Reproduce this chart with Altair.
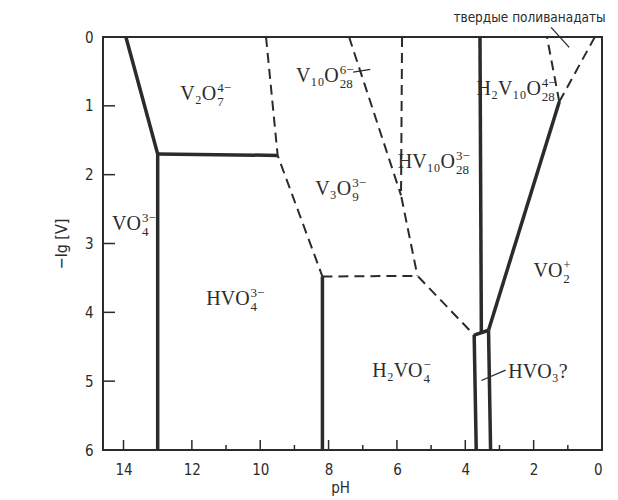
import altair as alt
import pandas as pd

# ---- data ----
seg_ids = []
seg_style = []
seg_ph = []
seg_lg = []

def add(sid, style, pts):
    for p, l in pts:
        seg_ids.append(sid); seg_style.append(style); seg_ph.append(p); seg_lg.append(l)

thick_segments = [
    [(13.93, 0.0), (13.0, 1.70), (13.0, 6.0)],
    [(13.0, 1.70), (9.49, 1.72)],
    [(8.18, 3.48), (8.18, 6.0)],
    [(3.57, 0.0), (3.53, 4.30)],
    [(3.74, 4.33), (3.32, 4.26)],
    [(3.74, 4.33), (3.68, 6.0)],
    [(3.32, 4.26), (3.26, 6.0)],
    [(3.32, 4.26), (1.25, 0.94)],
]
dashed_segments = [
    [(9.83, 0.0), (9.49, 1.72), (8.18, 3.48)],
    [(8.18, 3.48), (5.40, 3.47), (3.74, 4.33)],
    [(7.40, 0.0), (5.88, 2.30)],
    [(5.85, 0.0), (5.88, 2.30), (5.40, 3.47)],
    [(1.25, 0.94), (1.61, 0.0)],
    [(1.25, 0.94), (0.21, 0.0)],
]
thin_segments = [
    [(1.49, -0.14), (0.96, 0.15)],
    [(7.28, 0.51), (6.78, 0.47)],
    [(3.53, 4.99), (2.82, 4.84)],
]
for k, s in enumerate(thick_segments):
    add(f"t{k}", "thick", s)
for k, s in enumerate(dashed_segments):
    add(f"d{k}", "dash", s)
for k, s in enumerate(thin_segments):
    add(f"n{k}", "thin", s)

lines = pd.DataFrame({"sid": seg_ids, "style": seg_style, "ph": seg_ph, "lg": seg_lg})
lines["ord"] = lines.groupby("sid").cumcount()

# species labels: anchor (end of main part), main text, subscript, superscript
lab_ph = [11.29, 13.49, 10.31, 7.34, 7.70, 4.30, 1.79, 1.16, 5.25]
lab_lg = [0.92, 2.81, 3.90, 2.30, 0.65, 1.90, 0.84, 3.49, 4.94]
lab_main = ["V₂O", "VO", "HVO", "V₃O", "V₁₀O", "HV₁₀O", "H₂V₁₀O", "VO", "H₂VO"]
lab_sub = ["7", "4", "4", "9", "28", "28", "28", "2", "4"]
lab_sup = ["4−", "3−", "3−", "3−", "6−", "3−", "4−", "+", "−"]
labels = pd.DataFrame({"ph": lab_ph, "lg": lab_lg, "main": lab_main,
                       "sub": lab_sub, "sup": lab_sup})

plain_ph = [2.74, 2.12]
plain_lg = [4.96, -0.28]
plain_txt = ["HVO₃?", "твердые поливанадаты"]
plain_kind = ["serif", "sans"]
plain = pd.DataFrame({"ph": plain_ph, "lg": plain_lg, "txt": plain_txt, "kind": plain_kind})

x_major = [14, 12, 10, 8, 6, 4, 2]
x_minor = [13, 11, 9, 7, 5, 3, 1]
y_major = [1, 2, 3, 4, 5]

W, H = 499, 413
INK = "#2b2b2b"
SANS = "DejaVu Sans Condensed, Liberation Sans Narrow, DejaVu Sans, sans-serif"
SERIF = "Liberation Serif, DejaVu Serif, serif"

xs = alt.Scale(domain=[0, 14.6], reverse=True, nice=False, zero=False)
ys = alt.Scale(domain=[0, 6], reverse=True, nice=False, zero=False)

xax = alt.Axis(values=[14, 12, 10, 8, 6, 4, 2, 0], format="d", grid=False, domain=False,
               ticks=False, labelPadding=12, labelFontSize=15, labelFont=SANS,
               labelColor=INK, title="pH", titleFont=SANS, titleFontSize=15,
               titleFontWeight="normal", titleColor=INK, titleX=237, titleY=37,
               titleBaseline="middle")
yax = alt.Axis(values=[0, 1, 2, 3, 4, 5, 6], format="d", grid=False, domain=False,
               ticks=False, labelPadding=10, labelFontSize=15, labelFont=SANS,
               labelColor=INK, title="−lg [V]", titleFont=SANS, titleFontSize=16,
               titleFontWeight="normal", titleColor=INK, titlePadding=15)

base = alt.Chart(lines)
thick = base.transform_filter(alt.datum.style == "thick").mark_line(
    color=INK, strokeWidth=3.5, strokeCap="butt", strokeJoin="miter").encode(
    x=alt.X("ph:Q", scale=xs, axis=xax),
    y=alt.Y("lg:Q", scale=ys, axis=yax),
    detail="sid:N", order="ord:Q")
dash = base.transform_filter(alt.datum.style == "dash").mark_line(
    color=INK, strokeWidth=2, strokeDash=[10, 6], strokeCap="butt").encode(
    x=alt.X("ph:Q", scale=xs), y=alt.Y("lg:Q", scale=ys),
    detail="sid:N", order="ord:Q")
thin = base.transform_filter(alt.datum.style == "thin").mark_line(
    color=INK, strokeWidth=1.3, clip=False).encode(
    x=alt.X("ph:Q", scale=xs), y=alt.Y("lg:Q", scale=ys),
    detail="sid:N", order="ord:Q")

lab = alt.Chart(labels)
main_t = lab.mark_text(align="right", baseline="alphabetic", font=SERIF, fontSize=20,
                       color=INK).encode(x=alt.X("ph:Q", scale=xs), y=alt.Y("lg:Q", scale=ys),
                                         text="main:N")
sub_t = lab.mark_text(align="left", baseline="alphabetic", font=SERIF, fontSize=13,
                      color=INK, dx=1, dy=6).encode(x=alt.X("ph:Q", scale=xs),
                                                    y=alt.Y("lg:Q", scale=ys), text="sub:N")
sup_t = lab.mark_text(align="left", baseline="alphabetic", font=SERIF, fontSize=13,
                      color=INK, dx=1, dy=-8).encode(x=alt.X("ph:Q", scale=xs),
                                                     y=alt.Y("lg:Q", scale=ys), text="sup:N")

pl = alt.Chart(plain)
plain_serif = pl.transform_filter(alt.datum.kind == "serif").mark_text(
    align="left", baseline="alphabetic", font=SERIF, fontSize=20, color=INK).encode(
    x=alt.X("ph:Q", scale=xs), y=alt.Y("lg:Q", scale=ys), text="txt:N")
plain_sans = pl.transform_filter(alt.datum.kind == "sans").mark_text(
    align="center", baseline="middle", font=SANS, fontSize=13.5, color=INK, clip=False).encode(
    x=alt.X("ph:Q", scale=xs), y=alt.Y("lg:Q", scale=ys), text="txt:N")

xmaj = alt.Chart(pd.DataFrame({"v": x_major})).mark_rule(color=INK, strokeWidth=1.5).encode(
    x=alt.X("v:Q", scale=xs), y=alt.value(H), y2=alt.value(H - 10))
xmin = alt.Chart(pd.DataFrame({"v": x_minor})).mark_rule(color=INK, strokeWidth=1.5).encode(
    x=alt.X("v:Q", scale=xs), y=alt.value(H), y2=alt.value(H - 5))
ymaj = alt.Chart(pd.DataFrame({"v": y_major})).mark_rule(color=INK, strokeWidth=1.5).encode(
    y=alt.Y("v:Q", scale=ys), x=alt.value(0), x2=alt.value(12))

chart = alt.layer(thick, dash, thin, xmaj, xmin, ymaj, main_t, sub_t, sup_t,
                  plain_serif, plain_sans).properties(
    width=W, height=H, autosize=alt.AutoSizeParams(type="none"),
    padding={"left": 95, "top": 29, "right": 8, "bottom": 50},
    background="white"
).configure_view(stroke=INK, strokeWidth=2)

chart.save("out.html", embed_options={"renderer": "svg", "actions": False})
